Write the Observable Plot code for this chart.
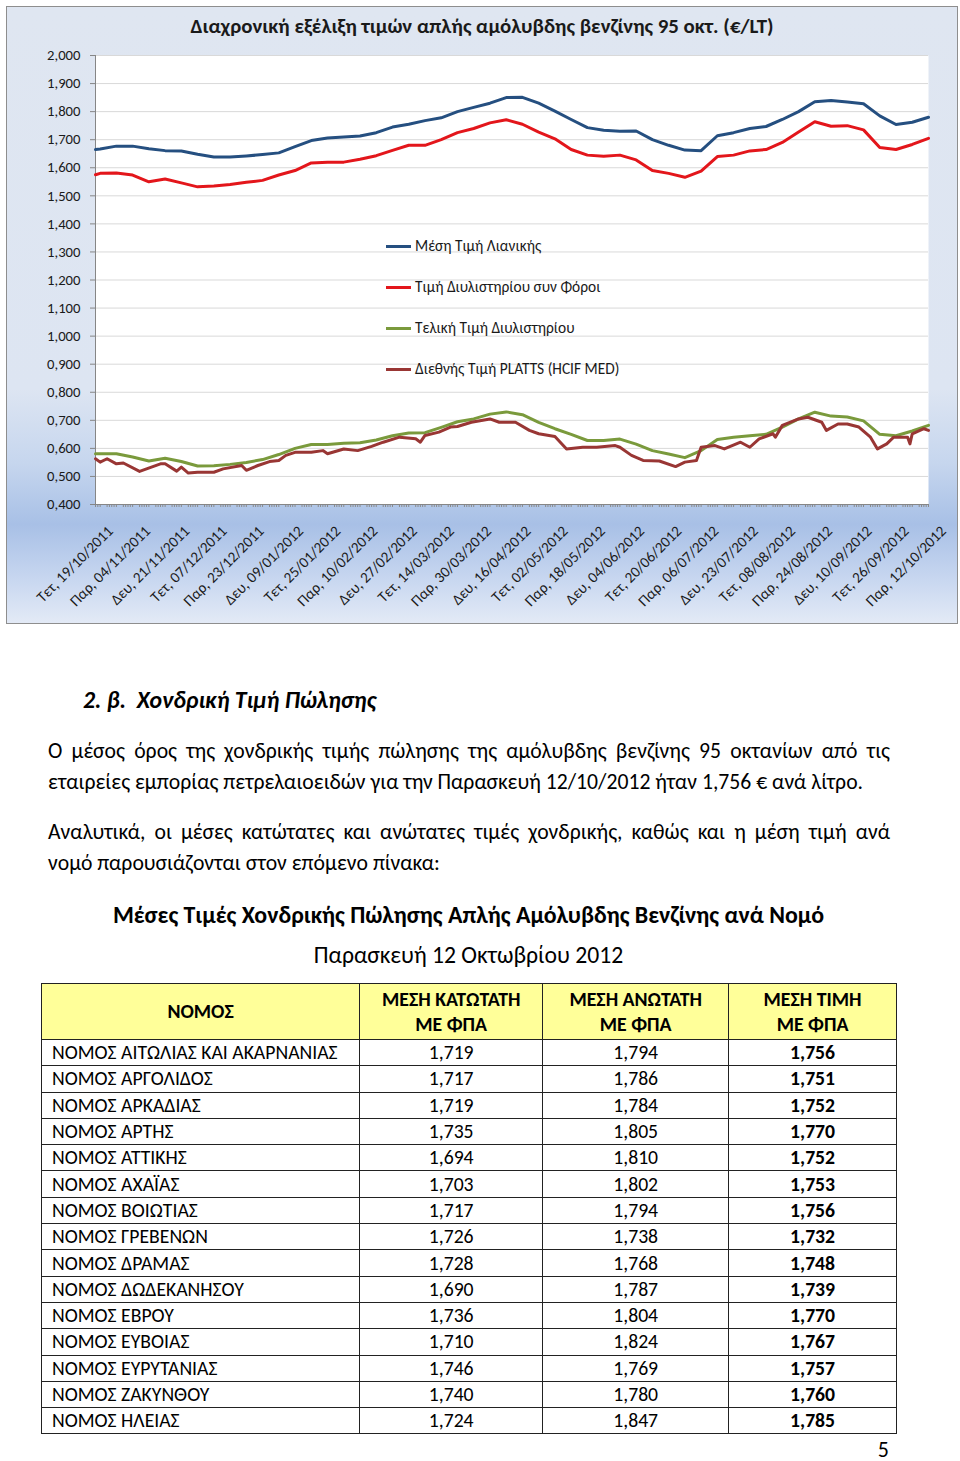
<!DOCTYPE html>
<html><head><meta charset="utf-8">
<script src="https://cdn.jsdelivr.net/npm/d3@7"></script>
<script src="https://cdn.jsdelivr.net/npm/@observablehq/plot@0.6"></script>
<style>
body{margin:0;width:960px;height:1461px;position:relative;background:#fff;font-family:Carlito,Calibri,"Open Sans",sans-serif;color:#000;overflow:hidden}
#box{position:absolute;left:6px;top:6px;width:950px;height:616px;border:1px solid #8e8e8e;
 background:linear-gradient(to bottom,#dfe6f1 0%,#dde5f2 62%,#c6d6ee 74%,#a8c0e6 84%,#c8d7f0 93%,#e3eaf6 100%)}
#plot{position:absolute;left:0;top:0}
#title{position:absolute;left:0;top:6px;width:950px;text-align:center;font-weight:bold;font-size:20.9px;color:#1a1a1a}
.leg{position:absolute;left:379px;height:20px;font-size:15.4px;color:#1a1a1a;white-space:nowrap}
.leg span.sw{position:absolute;left:0;top:9px;width:25px;height:3px}
.leg span.tx{position:absolute;left:29px;top:0;line-height:20px}
.abs{position:absolute}
#h2{left:83px;top:686px;font-weight:bold;font-style:italic;font-size:23.8px;line-height:28px}
.para{left:48px;width:842px;font-size:21.7px;line-height:31px}
.para .jl{text-align:justify;text-align-last:justify}
#ttitle{left:41px;width:855px;top:901px;text-align:center;font-weight:bold;font-size:23.9px;line-height:28px}
#tsub{left:41px;width:855px;top:941px;text-align:center;font-size:23.7px;line-height:28px}
#tbl{position:absolute;left:41px;top:983px;width:856px;border-collapse:collapse;font-size:19.7px}
#tbl td,#tbl th{border:1px solid #222;padding:0}
#tbl th{background:#ffff99;font-weight:bold;height:55px;line-height:25px;font-size:19.8px}
#tbl td{height:25.3px;line-height:25px;text-align:center}
#tbl td.n{text-align:left;padding-left:10px}
#tbl td.b{font-weight:bold}
#pg{right:71px;top:1436px;font-size:22px;line-height:28px}
</style></head>
<body>
<div id="box">
  <div id="plot"></div>
  <div id="title">Διαχρονική εξέλιξη τιμών απλής αμόλυβδης βενζίνης 95 οκτ. (€/LT)</div>
  <div id="legend"></div>
</div>
<div id="h2" class="abs">2. β.&nbsp; Χονδρική Τιμή Πώλησης</div>
<div id="p1" class="abs para" style="top:735px"><div class="jl">Ο μέσος όρος της χονδρικής τιμής πώλησης της αμόλυβδης βενζίνης 95 οκτανίων από τις</div><div>εταιρείες εμπορίας πετρελαιοειδών για την Παρασκευή 12/10/2012 ήταν 1,756 € ανά λίτρο.</div></div>
<div id="p2" class="abs para" style="top:816px"><div class="jl">Αναλυτικά, οι μέσες κατώτατες και ανώτατες τιμές χονδρικής, καθώς και η μέση τιμή ανά</div><div>νομό παρουσιάζονται στον επόμενο πίνακα:</div></div>
<div id="ttitle" class="abs">Μέσες Τιμές Χονδρικής Πώλησης Απλής Αμόλυβδης Βενζίνης ανά Νομό</div>
<div id="tsub" class="abs">Παρασκευή 12 Οκτωβρίου 2012</div>
<table id="tbl"></table>
<div id="pg" class="abs">5</div>
<script>
// ---- chart data ----
const dates = ["2011-10-19","2011-10-21","2011-10-28","2011-11-04","2011-11-11","2011-11-18","2011-11-25","2011-12-02","2011-12-09","2011-12-16","2011-12-23","2011-12-30","2012-01-06","2012-01-13","2012-01-20","2012-01-27","2012-02-03","2012-02-10","2012-02-17","2012-02-24","2012-03-02","2012-03-09","2012-03-16","2012-03-23","2012-03-30","2012-04-06","2012-04-13","2012-04-20","2012-04-27","2012-05-04","2012-05-11","2012-05-18","2012-05-25","2012-06-01","2012-06-08","2012-06-15","2012-06-22","2012-06-29","2012-07-06","2012-07-13","2012-07-20","2012-07-27","2012-08-03","2012-08-10","2012-08-17","2012-08-24","2012-08-31","2012-09-07","2012-09-14","2012-09-21","2012-09-28","2012-10-05","2012-10-12"];
const retail = [1.665,1.667,1.677,1.677,1.668,1.661,1.660,1.648,1.638,1.638,1.642,1.647,1.653,1.675,1.697,1.706,1.710,1.713,1.725,1.745,1.755,1.768,1.778,1.800,1.815,1.830,1.850,1.851,1.830,1.802,1.772,1.743,1.734,1.730,1.731,1.700,1.680,1.663,1.661,1.714,1.725,1.740,1.747,1.772,1.800,1.835,1.840,1.834,1.828,1.785,1.754,1.762,1.780];
const refineryTax = [1.575,1.580,1.581,1.574,1.550,1.560,1.546,1.532,1.535,1.540,1.548,1.555,1.574,1.590,1.617,1.620,1.620,1.630,1.643,1.662,1.680,1.680,1.700,1.725,1.740,1.760,1.771,1.755,1.727,1.703,1.665,1.645,1.641,1.645,1.628,1.590,1.580,1.566,1.588,1.640,1.645,1.660,1.665,1.690,1.727,1.764,1.748,1.750,1.735,1.672,1.665,1.683,1.705];
const refineryFinal = [0.581,0.581,0.581,0.569,0.555,0.565,0.553,0.537,0.538,0.543,0.550,0.560,0.578,0.600,0.614,0.614,0.618,0.620,0.630,0.645,0.655,0.656,0.675,0.695,0.705,0.722,0.730,0.720,0.693,0.670,0.650,0.628,0.628,0.633,0.615,0.592,0.580,0.567,0.592,0.632,0.640,0.645,0.650,0.676,0.705,0.729,0.715,0.712,0.698,0.650,0.645,0.662,0.682];
// PLATTS read at a finer step (its own dates)
const plattsDates = [
 "2011-10-19","2011-10-21","2011-10-24","2011-10-28","2011-10-31",
 "2011-11-07","2011-11-10","2011-11-16","2011-11-18","2011-11-23","2011-11-25","2011-11-28",
 "2011-12-02","2011-12-09","2011-12-13","2011-12-21","2011-12-23","2011-12-28",
 "2012-01-02","2012-01-06","2012-01-09","2012-01-13","2012-01-20","2012-01-25","2012-01-27",
 "2012-02-03","2012-02-09","2012-02-15","2012-02-20","2012-02-27",
 "2012-03-05","2012-03-07","2012-03-09","2012-03-15","2012-03-20","2012-03-23","2012-03-29",
 "2012-04-06","2012-04-10","2012-04-13","2012-04-17","2012-04-23","2012-04-27",
 "2012-05-04","2012-05-09","2012-05-16","2012-05-22","2012-05-30",
 "2012-06-01","2012-06-06","2012-06-11","2012-06-18","2012-06-25","2012-06-29",
 "2012-07-04","2012-07-06","2012-07-12","2012-07-16","2012-07-23","2012-07-27","2012-07-31",
 "2012-08-06","2012-08-07","2012-08-10","2012-08-17","2012-08-21","2012-08-27","2012-08-29",
 "2012-09-03","2012-09-07","2012-09-12","2012-09-17","2012-09-20","2012-09-24","2012-09-27",
 "2012-10-03","2012-10-04","2012-10-05","2012-10-10","2012-10-12"];
const platts = [
 0.563,0.551,0.563,0.545,0.548,
 0.518,0.527,0.545,0.545,0.519,0.533,0.512,
 0.515,0.515,0.527,0.539,0.522,0.539,
 0.553,0.557,0.575,0.586,0.586,0.592,0.581,
 0.598,0.592,0.607,0.622,0.640,
 0.634,0.622,0.646,0.658,0.676,0.678,0.693,
 0.705,0.693,0.693,0.693,0.664,0.652,
 0.642,0.598,0.604,0.604,0.610,
 0.604,0.575,0.557,0.555,0.535,0.551,
 0.557,0.604,0.610,0.598,0.622,0.604,0.634,
 0.652,0.640,0.682,0.705,0.711,0.693,0.664,
 0.687,0.687,0.676,0.640,0.598,0.616,0.640,
 0.640,0.616,0.652,0.670,0.664];
const seriesNames = ["Μέση Τιμή Λιανικής","Τιμή Διυλιστηρίου συν Φόροι","Τελική Τιμή Διυλιστηρίου","Διεθνής Τιμή PLATTS (HCIF MED)"];
const seriesColors = ["#254f80","#e3161b","#7a9a3c","#993634"];
const xTickLabels = ["Τετ, 19/10/2011","Παρ, 04/11/2011","Δευ, 21/11/2011","Τετ, 07/12/2011","Παρ, 23/12/2011","Δευ, 09/01/2012","Τετ, 25/01/2012","Παρ, 10/02/2012","Δευ, 27/02/2012","Τετ, 14/03/2012","Παρ, 30/03/2012","Δευ, 16/04/2012","Τετ, 02/05/2012","Παρ, 18/05/2012","Δευ, 04/06/2012","Τετ, 20/06/2012","Παρ, 06/07/2012","Δευ, 23/07/2012","Τετ, 08/08/2012","Παρ, 24/08/2012","Δευ, 10/09/2012","Τετ, 26/09/2012","Παρ, 12/10/2012"];
const yTicks = [0.4,0.5,0.6,0.7,0.8,0.9,1.0,1.1,1.2,1.3,1.4,1.5,1.6,1.7,1.8,1.9,2.0];

// ---- table data ----
const tableHeader = ["ΝΟΜΟΣ","ΜΕΣΗ ΚΑΤΩΤΑΤΗ<br>ΜΕ ΦΠΑ","ΜΕΣΗ ΑΝΩΤΑΤΗ<br>ΜΕ ΦΠΑ","ΜΕΣΗ ΤΙΜΗ<br>ΜΕ ΦΠΑ"];
const nomoi = ["ΝΟΜΟΣ ΑΙΤΩΛΙΑΣ ΚΑΙ ΑΚΑΡΝΑΝΙΑΣ","ΝΟΜΟΣ ΑΡΓΟΛΙΔΟΣ","ΝΟΜΟΣ ΑΡΚΑΔΙΑΣ","ΝΟΜΟΣ ΑΡΤΗΣ","ΝΟΜΟΣ ΑΤΤΙΚΗΣ","ΝΟΜΟΣ ΑΧΑΪΑΣ","ΝΟΜΟΣ ΒΟΙΩΤΙΑΣ","ΝΟΜΟΣ ΓΡΕΒΕΝΩΝ","ΝΟΜΟΣ ΔΡΑΜΑΣ","ΝΟΜΟΣ ΔΩΔΕΚΑΝΗΣΟΥ","ΝΟΜΟΣ ΕΒΡΟΥ","ΝΟΜΟΣ ΕΥΒΟΙΑΣ","ΝΟΜΟΣ ΕΥΡΥΤΑΝΙΑΣ","ΝΟΜΟΣ ΖΑΚΥΝΘΟΥ","ΝΟΜΟΣ ΗΛΕΙΑΣ"];
const minPrice = [1.719,1.717,1.719,1.735,1.694,1.703,1.717,1.726,1.728,1.690,1.736,1.710,1.746,1.740,1.724];
const maxPrice = [1.794,1.786,1.784,1.805,1.810,1.802,1.794,1.738,1.768,1.787,1.804,1.824,1.769,1.780,1.847];
const avgPrice = [1.756,1.751,1.752,1.770,1.752,1.753,1.756,1.732,1.748,1.739,1.770,1.767,1.757,1.760,1.785];

const FONT = 'Carlito, Calibri, "Open Sans", sans-serif';
const parseISO = d3.utcParse("%Y-%m-%d");
const parseLbl = d3.utcParse("%d/%m/%Y");
const tickDates = xTickLabels.map(s => parseLbl(s.slice(5)));
const labelMap = new Map(tickDates.map((d, i) => [+d, xTickLabels[i]]));
const fmt = v => v.toFixed(3).replace(".", ",");
const rows = [];
[retail, refineryTax, refineryFinal].forEach((vals, s) => vals.forEach((v, i) => rows.push({date: parseISO(dates[i]), value: v, series: seriesNames[s]})));
platts.forEach((v, i) => rows.push({date: parseISO(plattsDates[i]), value: v, series: seriesNames[3]}));
const x0 = parseISO(dates[0]), x1 = parseISO(dates[dates.length - 1]);
const businessDays = d3.utcDay.range(x0, d3.utcDay.offset(x1, 1)).filter(d => d.getUTCDay() > 0 && d.getUTCDay() < 6);

const chart = Plot.plot({
  width: 950, height: 616,
  marginLeft: 88, marginRight: 29, marginTop: 48, marginBottom: 119,
  style: {background: "transparent", fontFamily: FONT, fontSize: "14.7px", color: "#1a1a1a"},
  x: {type: "utc", domain: [x0, x1], label: null},
  y: {domain: [0.4, 2.0], label: null},
  color: {domain: seriesNames, range: seriesColors},
  marks: [
    Plot.frame({fill: "white", stroke: null}),
    Plot.gridY(yTicks, {stroke: "#d9d9d9", strokeOpacity: 1}),
    Plot.axisY({ticks: yTicks, tickFormat: fmt, tickSize: 5, tickPadding: 10, stroke: "#868686", fill: "#1a1a1a", fontSize: 14.7, label: null}),
    Plot.axisX({ticks: businessDays, tickSize: 3, text: null, stroke: "#8a8a8a", label: null}),
    Plot.axisX({ticks: tickDates, tickFormat: d => labelMap.get(+d), tickRotate: -45, tickSize: 0, tickPadding: 24, dx: 15, fill: "#1a1a1a", fontSize: 15.2, label: null}),
    Plot.frame({anchor: "left", stroke: "#868686"}),
    Plot.frame({anchor: "bottom", stroke: "#868686"}),
    Plot.lineY(rows, {x: "date", y: "value", z: "series", stroke: "series", strokeWidth: 3, curve: "linear"})
  ]
});
document.getElementById("plot").appendChild(chart);

// legend
const legendTops = [229, 270, 311, 352];
const leg = document.getElementById("legend");
seriesNames.forEach((n, i) => {
  const d = document.createElement("div");
  d.className = "leg";
  d.style.top = legendTops[i] + "px";
  d.innerHTML = `<span class="sw" style="background:${seriesColors[i]}"></span><span class="tx">${n}</span>`;
  leg.appendChild(d);
});

// table
const tbl = document.getElementById("tbl");
const colW = [319, 183, 186, 168];
let html = "<tr>" + tableHeader.map((h, i) => `<th style="width:${colW[i]}px">${h}</th>`).join("") + "</tr>";
nomoi.forEach((n, i) => {
  html += `<tr><td class="n">${n}</td><td>${fmt(minPrice[i])}</td><td>${fmt(maxPrice[i])}</td><td class="b">${fmt(avgPrice[i])}</td></tr>`;
});
tbl.innerHTML = html;
</script>
</body></html>
